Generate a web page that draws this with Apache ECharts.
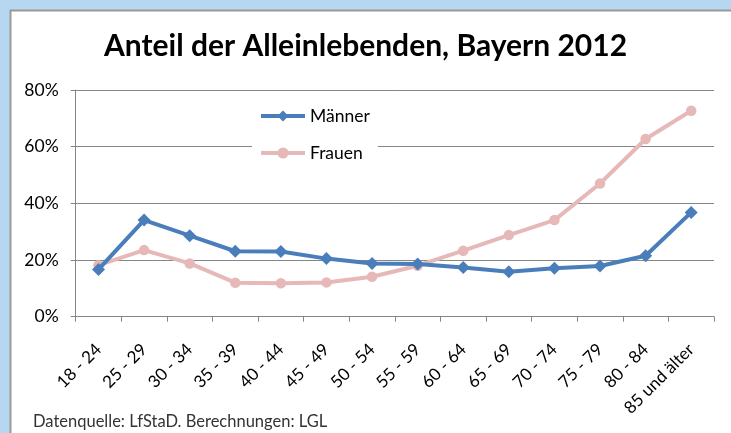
<!DOCTYPE html>
<html>
<head>
<meta charset="utf-8">
<script src="https://cdn.jsdelivr.net/npm/echarts@6/dist/echarts.min.js"></script>
<style>
html,body{margin:0;padding:0;background:#b7d7f0;}
#c{width:731px;height:433px;}
</style>
</head>
<body>
<div id="c"></div>
<script>
const categories = ['18 - 24','25 - 29','30 - 34','35 - 39','40 - 44','45 - 49','50 - 54','55 - 59','60 - 64','65 - 69','70 - 74','75 - 79','80 - 84','85 und älter'];
const maenner = [16.7, 34.1, 28.6, 23.1, 23.0, 20.5, 18.8, 18.6, 17.4, 15.9, 17.1, 17.9, 21.5, 36.8];
const frauen  = [18.2, 23.5, 18.8, 12.0, 11.8, 12.1, 14.1, 18.0, 23.3, 28.8, 34.1, 47.0, 62.7, 72.7];
const yTicks = [0, 20, 40, 60, 80];
const titleText = 'Anteil der Alleinlebenden, Bayern 2012';
const sourceText = 'Datenquelle: LfStaD. Berechnungen: LGL';

const chart = echarts.init(document.getElementById('c'), null, {renderer:'canvas'});
const font = 'Lato, "Noto Sans", sans-serif';
const axisColor = '#868686';
chart.setOption({
  backgroundColor: '#b7d7f0',
  animation: false,
  graphic: [
    {type:'rect', z:-10, shape:{x:10.5,y:10.5,width:730,height:430}, style:{fill:'#ffffff', stroke:'#9a9a9a', lineWidth:2}},
    {type:'text', left:33, top:413, style:{text:sourceText, fontFamily:font, fontSize:16.5, fill:'#333333'}}
  ],
  title: {
    text: titleText,
    left: 'center',
    top: 26,
    padding: [5, 0, 5, 13],
    textStyle: {fontFamily: font, fontWeight:'bold', fontSize:30, color:'#000'}
  },
  legend: {
    orient: 'vertical',
    left: 252,
    top: 104,
    itemWidth: 44,
    itemHeight: 14,
    itemGap: 19,
    padding: [3, 8, 3, 7],
    backgroundColor: '#ffffff',
    lineStyle: {width: 4},
    textStyle: {fontFamily: font, fontSize: 17.5, color: '#000'},
    data: ['Männer', 'Frauen']
  },
  grid: {left: 75.7, right: 17, top: 90, bottom: 116.3, containLabel:false},
  xAxis: {
    type: 'category',
    data: categories,
    boundaryGap: true,
    axisLine: {lineStyle:{color:axisColor, width:1}},
    axisTick: {show:true, length:5, lineStyle:{color:axisColor}},
    axisLabel: {rotate: 45, interval:0, fontFamily: font, fontSize: 17, color:'#000', margin: 30}
  },
  yAxis: {
    type: 'value',
    min: 0, max: 80, interval: 20,
    axisLine: {show:true, lineStyle:{color:axisColor, width:1}},
    axisTick: {show:true, length:5, lineStyle:{color:axisColor}},
    splitLine: {lineStyle:{color:axisColor, width:1}},
    axisLabel: {fontFamily: font, fontSize: 17.5, color:'#000', margin: 17, formatter: v => yTicks.includes(v) ? v + '%' : ''}
  },
  series: [
    {
      name: 'Männer', type: 'line', data: maenner,
      symbol: 'diamond', symbolSize: 13,
      lineStyle: {color:'#4a7ebb', width:4},
      itemStyle: {color:'#4a7ebb'},
      z: 3
    },
    {
      name: 'Frauen', type: 'line', data: frauen,
      symbol: 'circle', symbolSize: 10.5,
      lineStyle: {color:'#e6b9b8', width:4},
      itemStyle: {color:'#e6b9b8'},
      z: 2
    }
  ]
});
</script>
</body>
</html>
